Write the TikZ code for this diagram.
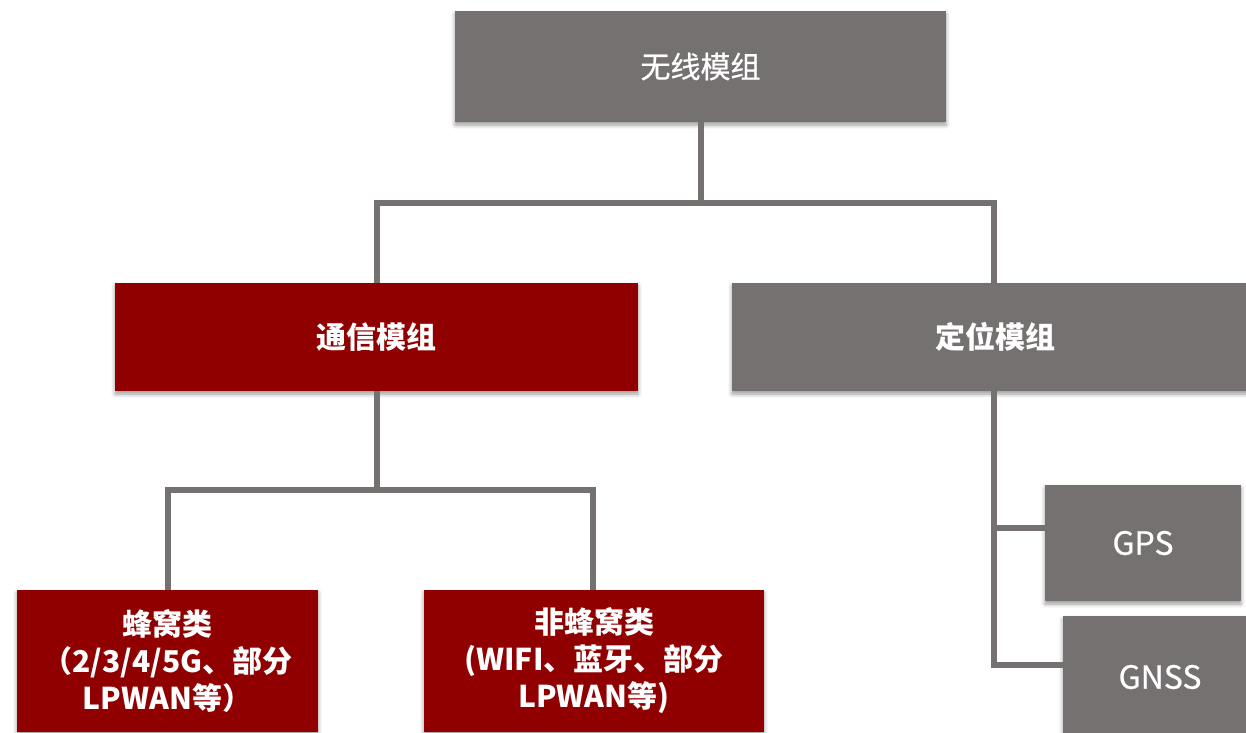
\documentclass[tikz,border=0pt]{standalone}
\usepackage{fontspec}
\setmainfont{Noto Sans CJK SC}
\newfontfamily\medfont[FakeBold=0.6]{Noto Sans CJK SC}
\usetikzlibrary{shadows.blur}
\definecolor{boxgray}{RGB}{118,113,113}
\definecolor{boxred}{RGB}{144,0,0}
\begin{document}
\begin{tikzpicture}[x=1pt,y=-1pt,
  box/.style={rectangle, inner sep=0pt, text=white, align=center,
    font=\fontsize{30}{37}\selectfont,
    blur shadow={shadow xshift=0pt, shadow yshift=-3pt, shadow blur radius=4pt, shadow opacity=40}},
  graybox/.style={box, fill=boxgray, font=\fontsize{30}{37}\medfont},
  leafbox/.style={box, fill=boxgray, font=\fontsize{32}{37}\medfont},
  redbox/.style={box, fill=boxred, font=\fontsize{30}{37}\selectfont\bfseries},
  conn/.style={draw=boxgray, line width=6pt}]
\useasboundingbox (0,0) rectangle (1246,732);
\clip (0,0) rectangle (1246,732);
% nodes
\node[graybox, minimum width=491pt, minimum height=111pt] (top) at (700.5,66.5) {无线模组};
\node[redbox, minimum width=523pt, minimum height=108pt] (comm) at (376.5,337) {通信模组};
\node[graybox, minimum width=526pt, minimum height=108pt, font=\fontsize{30}{37}\selectfont\bfseries] (pos) at (995,337) {定位模组};
\node[redbox, minimum width=301pt, minimum height=142pt] (cell) at (167.5,661) {蜂窝类\\（2/3/4/5G、部分\\LPWAN等）};
\node[redbox, minimum width=340pt, minimum height=142pt] (noncell) at (594,661) {非蜂窝类\\(WIFI、蓝牙、部分\\LPWAN等)};
\node[leafbox, minimum width=196pt, minimum height=116pt] (gps) at (1143,543) {GPS};
\node[leafbox, minimum width=194pt, minimum height=122pt] (gnss) at (1160,677) {GNSS};
% junctions
\coordinate (j1) at (701,203);
\coordinate (j2) at (377,490);
\coordinate (k1) at (994,528);
\coordinate (k2) at (994,665);
% connectors
\draw[conn] (top.south -| j1) -- (j1) -| (comm.north);
\draw[conn] (j1) -| (pos.north -| k1);
\draw[conn] (comm.south -| j2) -- (j2) -| (cell.north);
\draw[conn] (j2) -| (noncell.north -| 593,0);
\draw[conn] (pos.south -| k1) -- (k2) -- (gnss.west |- k2);
\draw[conn] (k1) -- (gps.west |- k1);
\end{tikzpicture}
\end{document}
